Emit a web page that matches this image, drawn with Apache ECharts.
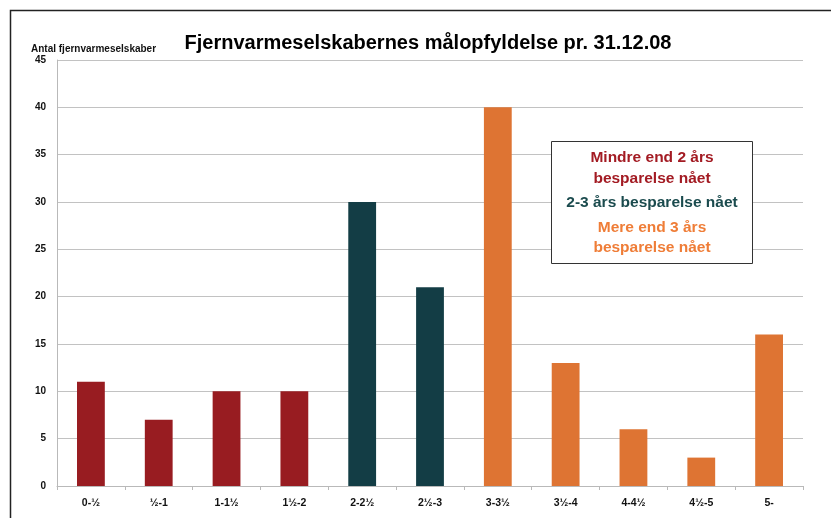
<!DOCTYPE html>
<html><head><meta charset="utf-8">
<script src="https://cdn.jsdelivr.net/npm/echarts@6/dist/echarts.min.js"></script>
<style>html,body{margin:0;padding:0;background:#fff}#c{width:831px;height:518px}</style>
</head><body><div id="c"></div>
<script>
const categories = ['0-½','½-1','1-1½','1½-2','2-2½','2½-3','3-3½','3½-4','4-4½','4½-5','5-'];
const values = [11, 7, 10, 10, 30, 21, 40, 13, 6, 3, 16];
const groups = [0, 0, 0, 0, 1, 1, 2, 2, 2, 2, 2];
const yTicks = {min: 0, max: 45, interval: 5};
const legendLines = ['Mindre end 2 års', 'besparelse nået', '2-3 års besparelse nået', 'Mere end 3 års', 'besparelse nået'];
const legendGroups = [0, 0, 1, 2, 2];

const barColors = ['#981C21', '#133D45', '#DE7433'];
const textColors = ['#A31B23', '#1B4B4E', '#EF7D37'];
const FONT = '"Liberation Sans", Arial, sans-serif';

const chart = echarts.init(document.getElementById('c'));
const lineY = [158, 179, 203, 228, 248];
chart.setOption({
  animation: false,
  backgroundColor: '#fff',
  title: {
    text: 'Fjernvarmeselskabernes målopfyldelse pr. 31.12.08',
    left: 423, top: 28, textAlign: 'center',
    textStyle: {fontFamily: FONT, fontWeight: 'bold', fontSize: 20, color: '#000'}
  },
  grid: {left: 57, right: 28, top: 60, bottom: 32},
  xAxis: {
    type: 'category', data: categories,
    axisLine: {lineStyle: {color: '#b9b9b9', width: 1}},
    axisTick: {show: true, alignWithLabel: false, length: 4, lineStyle: {color: '#b9b9b9'}},
    axisLabel: {fontFamily: FONT, fontWeight: 'bold', fontSize: 10.5, color: '#111', margin: 12}
  },
  yAxis: {
    type: 'value', min: yTicks.min, max: yTicks.max, interval: yTicks.interval,
    name: 'Antal fjernvarmeselskaber',
    nameLocation: 'end', nameGap: 6,
    nameTextStyle: {fontFamily: FONT, fontWeight: 'bold', fontSize: 10, color: '#111', align: 'left', padding: [0, 0, 0, -26]},
    axisLine: {show: true, lineStyle: {color: '#b9b9b9'}},
    axisTick: {show: false},
    splitLine: {lineStyle: {color: '#c2c2c2', width: 1}},
    axisLabel: {fontFamily: FONT, fontWeight: 'bold', fontSize: 10, color: '#111', margin: 11}
  },
  series: [{
    type: 'bar', barWidth: '41%',
    data: values.map((v, i) => ({value: v, itemStyle: {color: barColors[groups[i]]}}))
  }],
  graphic: [
    {type: 'rect', shape: {x: 10.5, y: 10.5, width: 830, height: 520}, style: {fill: null, stroke: '#222', lineWidth: 1.5}, silent: true},
    {type: 'rect', shape: {x: 551.5, y: 141.5, width: 201, height: 122}, style: {fill: '#fff', stroke: '#333', lineWidth: 1}, z: 10},
    ...legendLines.map((t, i) => ({
      type: 'text', x: 652, y: lineY[i], z: 11,
      style: {text: t, fill: textColors[legendGroups[i]], font: 'bold 15.5px ' + FONT, textAlign: 'center', textVerticalAlign: 'middle'}
    }))
  ]
});
</script></body></html>
